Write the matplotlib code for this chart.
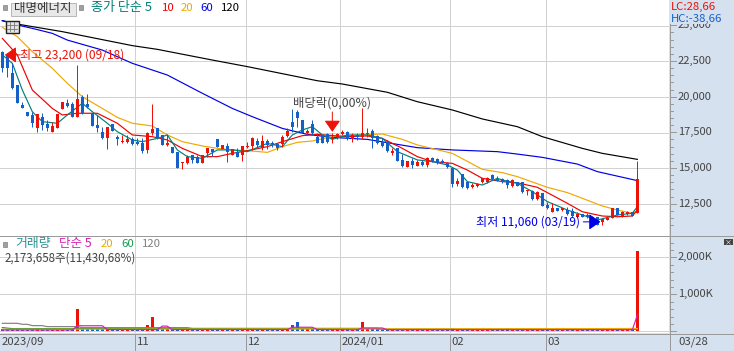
import matplotlib
matplotlib.use("Agg")
import matplotlib.pyplot as plt
from matplotlib.patches import Rectangle, Polygon

plt.rcParams['font.family'] = ['Noto Sans CJK KR', 'DejaVu Sans']

opens = [23150,22940,21660,20840,19460,18950,18740,17800,18570,18110,17570,17800,19140,19600,19510,18620,20020,19510,18860,18040,
17570,17100,18110,17170,16820,16870,17030,16870,16750,16290,17450,17850,17340,16660,16520,16170,15350,15350,15940,15820,
15400,16050,16360,17060,16360,16590,15940,16170,15940,16500,16570,16940,16400,16940,16800,16680,16710,17270,18220,18950,
18390,17450,18090,17220,17340,17380,17060,17170,17410,17570,17060,17340,17220,17410,17620,17270,16870,16870,16050,16400,
15590,15120,15520,15190,15470,15240,15700,15630,15540,15400,15000,13880,14580,14020,13670,13790,14020,14060,14530,14250,
14250,14180,13790,14070,14020,13440,13440,12850,13300,12430,11960,12250,12080,12080,12030,11610,11800,11750,11610,11570,
11270,11380,11540,12200,11660,11780,11960,11900]
highs = [23200,23060,22360,20840,19670,18950,18970,18830,18860,18390,18270,18810,19650,19830,19670,22240,20140,20210,18860,18740,
17920,17920,18110,17340,17340,17340,17220,17100,17100,17570,19510,17850,17340,17340,16520,16170,15420,15940,15940,15940,
15940,16400,16360,17060,16640,16750,16360,16400,16570,16870,17220,17100,17340,17030,16920,16750,17340,17800,19160,19090,
18390,17730,18390,17450,17340,17450,17450,17450,17690,17640,17500,17450,19200,17800,17730,17340,17100,16990,16400,16400,
16000,15520,15700,15590,15590,15770,15820,15700,15630,15470,15070,14300,14580,14070,13950,13990,14350,14420,14580,14490,
14350,14250,14230,14070,14020,13480,13480,13440,13300,12670,12550,12250,12200,12320,12200,11960,11800,11850,11660,11570,
11430,11500,12200,12200,12030,12010,11960,15530]
lows = [21780,21380,20540,19600,19250,18690,17920,17570,17690,17640,17570,17800,19140,19280,18580,18580,18810,19210,17970,17570,
17030,16360,17620,16640,16800,16750,16640,16640,16100,16100,17340,17030,16640,16570,16050,15000,14950,15300,15350,15350,
15400,15820,15860,16480,16360,15470,15940,15820,15540,16400,16290,16400,16290,16330,16520,16290,16520,17220,17570,17920,
17450,17340,17340,16750,16800,16750,16750,17030,17340,16990,16870,16990,17030,17170,16450,16710,16520,16120,15940,15520,
15070,15120,15000,15170,15170,15120,15470,15300,15350,15000,13670,13760,13600,13550,13600,13720,13950,13950,14180,14140,
13950,13650,13720,13790,13300,13130,12780,12780,12390,12150,11960,12030,12030,11730,11610,11570,11570,11500,11260,11060,
11060,11380,11540,11730,11610,11730,11660,11850]
closes = [22010,22010,20610,19600,19250,18690,18160,18830,18040,17800,17970,18810,19650,19370,18620,19830,18860,19280,17970,17800,
17100,17920,17620,17030,16940,17030,16710,16710,16240,17450,17760,17100,16640,16750,16050,15000,15420,15820,15590,15350,
15940,16400,16170,16520,16640,16170,16360,15820,16570,16590,17100,16640,16920,16640,16710,16450,17170,17640,17920,18550,
17450,17640,17450,16800,16800,16820,17220,17410,17570,17060,17340,17170,17500,17500,17100,16750,16590,16220,16240,15520,
15170,15520,15240,15470,15240,15700,15540,15400,15400,15070,13880,14110,13670,13650,13830,13880,14300,14300,14250,14140,
14070,13830,14180,13790,13370,13480,12850,13370,12390,12250,12250,12030,12200,11800,11660,11780,11570,11610,11380,11060,
11430,11500,12200,11730,11920,11960,11660,14230]
volumes = [70,60,55,60,40,35,40,50,35,30,35,40,45,35,70,600,100,100,90,90,
70,60,50,30,25,25,30,25,30,170,400,70,60,50,40,60,40,30,35,35,
35,40,35,35,30,35,30,35,40,35,35,30,35,30,30,50,60,100,170,250,
90,50,70,60,50,40,50,60,60,50,40,50,250,80,70,50,40,50,30,35,
35,30,30,30,30,35,30,35,30,35,80,40,40,30,30,30,35,30,40,30,
35,80,30,30,35,30,30,30,35,30,30,30,30,30,35,30,30,30,60,35,
30,30,80,40,30,30,60,2174]

ma5_i = [0,2,4,6,8,11,13,16,18,21,23,26,28,31,33,35,37,40,43,46,49,53,56,58,60,62,64,66,69,73,76,79,83,86,89,91,93,96,99,100,103,106,109,113,116,119,123,126,127]
ma5 = [22950,22360,20490,18970,18270,18160,18740,19560,18970,18160,17570,16990,16870,17100,17340,16290,15820,15700,16290,16290,16170,16750,16520,17340,17690,17920,17340,17030,17340,17340,17100,16170,15590,15470,15240,14880,14070,13830,14300,14180,13950,13370,12670,12080,11730,11380,11730,11850,12320]
ma10_i = [0,3,6,10,12,15,19,23,26,30,33,36,40,43,46,49,53,56,60,63,69,73,76,80,83,86,90,93,96,100,103,107,109,113,116,120,123,126,127]
ma10 = [24110,22950,20490,19200,18740,18860,18860,18160,17340,17220,16990,16400,15820,15820,16050,16240,16520,16870,17290,17380,17220,17270,17100,16400,15820,15470,15350,14880,14300,14070,13990,13670,13300,12550,11960,11660,11610,11660,12080]
ma20_i = [0,3,6,10,13,16,20,23,26,30,33,36,40,43,46,49,53,56,59,62,66,72,76,80,83,90,96,100,103,109,113,116,120,123,126,127]
ma20 = [24880,24230,23180,22010,20960,20020,19200,18570,18160,17970,17340,16870,16570,16400,16290,16240,16120,16520,16820,16920,17220,17340,17410,17030,16640,16050,14930,14700,14420,13670,13300,12900,12360,12080,11850,12040]
ma60_i = [0,4,6,10,13,20,26,33,40,46,50,56,61,66,73,83,90,99,103,108,115,119,127]
ma60 = [25350,24970,24810,24460,23990,23290,22360,21540,20260,19200,18620,17800,17380,17170,17030,16450,16290,16170,16000,15770,15300,14770,14140]
ma120_i = [0,3,12,26,31,42,49,63,68,77,83,90,96,103,108,116,120,127]
ma120 = [25350,25110,24580,23600,23340,22590,22130,21140,20910,20330,19670,19090,18460,17920,17220,16400,16050,15630]

vma5_i = [0,14,15,20,21,31,32,33,34,57,58,62,63,71,72,76,77,126,127]
vma5 = [36,36,150,150,45,45,140,140,45,45,110,110,45,40,90,90,40,40,440]
vma20_i = [0,127]
vma20 = [55,75]
vma60_i = [0,2,37,38,75,76,127]
vma60 = [100,72,72,70,70,50,60]
vma120_i = [0,3,4,5,6,8,9,15,16,37,38,75,76,127]
vma120 = [216,216,189,189,153,153,126,126,99,99,80,80,55,55]

high_label_price = 22950
low_label_price = 11250
month_pos = [26.6,48.7,67.5,89.5,108.7]
month_labels = ['11','12','2024/01','02','03']
price_ticks = [12500,15000,17500,20000,22500,25000]
vol_ticks = [1000,2000]

RED='#EC1208'; BLUE='#1560C8'; GRID='#D2D2D2'; STRIP='#D6E1EF'; EDGE='#9A9A9A'; TXT='#444444'
LW=0.72
MLW=0.85
W,H=734,351
fig=plt.figure(figsize=(W/100,H/100),dpi=100,facecolor='white')
def mk(x0,y0,x1,y1):
    return fig.add_axes([x0/W,1-y1/H,(x1-x0)/W,(y1-y0)/H])
ax=mk(0,0,669,235); av=mk(0,235,669,333)
XL=(-0.466,133.33)
for a in (ax,av):
    a.set_xlim(*XL); a.set_xticks([]); a.set_yticks([])
    for s in a.spines.values(): s.set_visible(False)
    a.set_axisbelow(True)
ax.set_ylim(10329,26798)
av.set_ylim(-46,2603)

for a in (ax,av):
    for m in month_pos: a.axvline(m,color=GRID,lw=LW,zorder=0)
for p in price_ticks: ax.axhline(p,color=GRID,lw=LW,zorder=0)
for v in [0]+vol_ticks: av.axhline(v,color=GRID,lw=LW,zorder=0)

idx=list(range(len(opens)))
cols=[RED if c>=o else BLUE for o,c in zip(opens,closes)]
for xs,ys,c in [(ma120_i,ma120,'#000000'),(ma60_i,ma60,'#0000E6'),(ma20_i,ma20,'#F0A800'),(ma10_i,ma10,'#F00000'),(ma5_i,ma5,'#008078')]:
    ax.plot(xs,ys,color=c,lw=MLW,zorder=2)
ax.vlines(idx,lows,highs,colors=cols,lw=LW,zorder=3)
ax.bar(idx,[abs(c-o) for o,c in zip(opens,closes)],bottom=[min(o,c) for o,c in zip(opens,closes)],
       width=0.7,color=cols,lw=0,zorder=4,antialiased=False)

av.bar(idx,volumes,width=0.7,color=cols,lw=0,zorder=2,antialiased=False)
for xs,ys,c in [(vma120_i,vma120,'#808080'),(vma60_i,vma60,'#169A50'),(vma20_i,vma20,'#F0A800'),(vma5_i,vma5,'#D81EB4')]:
    av.plot(xs,ys,color=c,lw=MLW,zorder=3)

# peak / trough / ex-dividend markers
HEAD='-|>,head_length=0.5,head_width=0.35'
ax.annotate('',xy=(0.5,high_label_price),xytext=(3.6,high_label_price),arrowprops=dict(arrowstyle=HEAD,color=RED,lw=LW,mutation_scale=14,shrinkA=0,shrinkB=0),zorder=6)
ax.text(3.6,high_label_price,'최고 23,200 (09/18)',color=RED,fontsize=8.7,va='center',ha='left',zorder=6)
ax.annotate('',xy=(119.6,low_label_price),xytext=(116.2,low_label_price),arrowprops=dict(arrowstyle=HEAD,color='#0000E6',lw=LW,mutation_scale=14,shrinkA=0,shrinkB=0),zorder=6)
ax.text(115.6,low_label_price,'최저 11,060 (03/19)',color='#0000E6',fontsize=8.7,va='center',ha='right',zorder=6)
ax.annotate('',xy=(66,17560),xytext=(66,18950),arrowprops=dict(arrowstyle=HEAD,color=RED,lw=LW,mutation_scale=14,shrinkA=0,shrinkB=0),zorder=6)
ax.text(66,19150,'배당락(0,00%)',color=TXT,fontsize=8.9,va='bottom',ha='center',zorder=6)

# overlay in figure pixels for chrome
o=fig.add_axes([0,0,1,1],zorder=10); o.set_xlim(0,W); o.set_ylim(H,0); o.axis('off'); o.patch.set_alpha(0)
o.add_patch(Rectangle((669,0),65,351,fc=STRIP,ec='none',zorder=1))
o.add_patch(Rectangle((0,333),734,18,fc=STRIP,ec='none',zorder=1))
o.plot([669.5,669.5],[0,351],color=EDGE,lw=LW,zorder=2)
o.plot([0,734],[235.5,235.5],color=EDGE,lw=LW,zorder=2)
o.plot([0,734],[333.5,333.5],color=EDGE,lw=LW,zorder=2)

def px_price(p): return 61+(22500-p)/70.08
def px_vol(v): return 331.3-v*0.037
for p in range(11000,26000,500):
    y=px_price(p)
    if y<24: continue
    major=p%2500==0
    o.plot([670,676 if major else 673],[y,y],color=EDGE,lw=LW,zorder=2)
for p in price_ticks:
    o.text(678,px_price(p),f'{p:,}',color=TXT,fontsize=8.0,va='center',ha='left',zorder=3)
for v in range(0,2600,200):
    y=px_vol(v)
    major=v%1000==0
    o.plot([670,676 if major else 673],[y,y],color=EDGE,lw=LW,zorder=2)
for v in vol_ticks:
    o.text(678,px_vol(v),f'{v:,}K',color=TXT,fontsize=8.0,va='center',ha='left',zorder=3)
o.add_patch(Rectangle((670,0),64,24,fc=STRIP,ec='none',zorder=4))
o.text(671,7,'LC:28,66',color=RED,fontsize=8.2,va='center',ha='left',zorder=5)
o.text(671,19,'HC:-38,66',color='#1560C8',fontsize=8.2,va='center',ha='left',zorder=5)
o.add_patch(Rectangle((724,239),9,6,fc='#444444',ec='none',zorder=5))
o.text(728.5,242,'×',color='white',fontsize=5,va='center',ha='center',zorder=6)

# bottom axis
o.text(2,342,'2023/09',color=TXT,fontsize=8.2,va='center',ha='left',zorder=3)
for m,l in zip(month_pos,month_labels):
    x=2.33+5*m
    o.plot([x,x],[334,351],color=EDGE,lw=LW,zorder=2)
    o.text(x+2,342,l,color=TXT,fontsize=8.2,va='center',ha='left',zorder=3)
o.text(678,342,'03/28',color=TXT,fontsize=8.2,va='center',ha='left',zorder=3)

# header
def sq(x,y): o.add_patch(Rectangle((x,y),4,5,fc='#A0A0A0',ec='#808080',lw=0.5,zorder=5))
sq(3,5); sq(79,5)
o.add_patch(Rectangle((10.5,2.5),65,13,fc='#E8E8E8',ec='#B8B8B8',lw=LW,zorder=4))
o.text(43,8.5,'대명에너지',color='#333333',fontsize=9,va='center',ha='center',zorder=5)
for x,t,c,fs in [(91,'종가 단순 5','#008078',9.4),(162,'10','#F00000',8.2),(181,'20','#F0A800',8.2),(200,'60','#0000E6',8.2),(221,'120','#000000',8.2)]:
    o.text(x,8,t,color=c,fontsize=fs,va='center',ha='left',zorder=5)
o.add_patch(Rectangle((5.5,20.5),13,12,fc='#E4E4E4',ec='#222222',lw=1,zorder=5))
for xx in (9.5,13.5): o.plot([xx,xx],[22,31],color='#777777',lw=0.6,zorder=6)
for yy in (24.5,28.5): o.plot([7,17],[yy,yy],color='#777777',lw=0.6,zorder=6)

sq(3,242)
for x,t,c,fs in [(15,'거래량','#2E9494',9.3),(59,'단순 5','#D81EB4',9),(101,'20','#F0A800',8.2),(121,'60','#169A50',8.2),(142,'120','#808080',8.2)]:
    o.text(x,244,t,color=c,fontsize=fs,va='center',ha='left',zorder=5)
o.text(5,258,'2,173,658주(11,430,68%)',color=TXT,fontsize=8.3,va='center',ha='left',zorder=5)

fig.savefig('out.png',dpi=100)
